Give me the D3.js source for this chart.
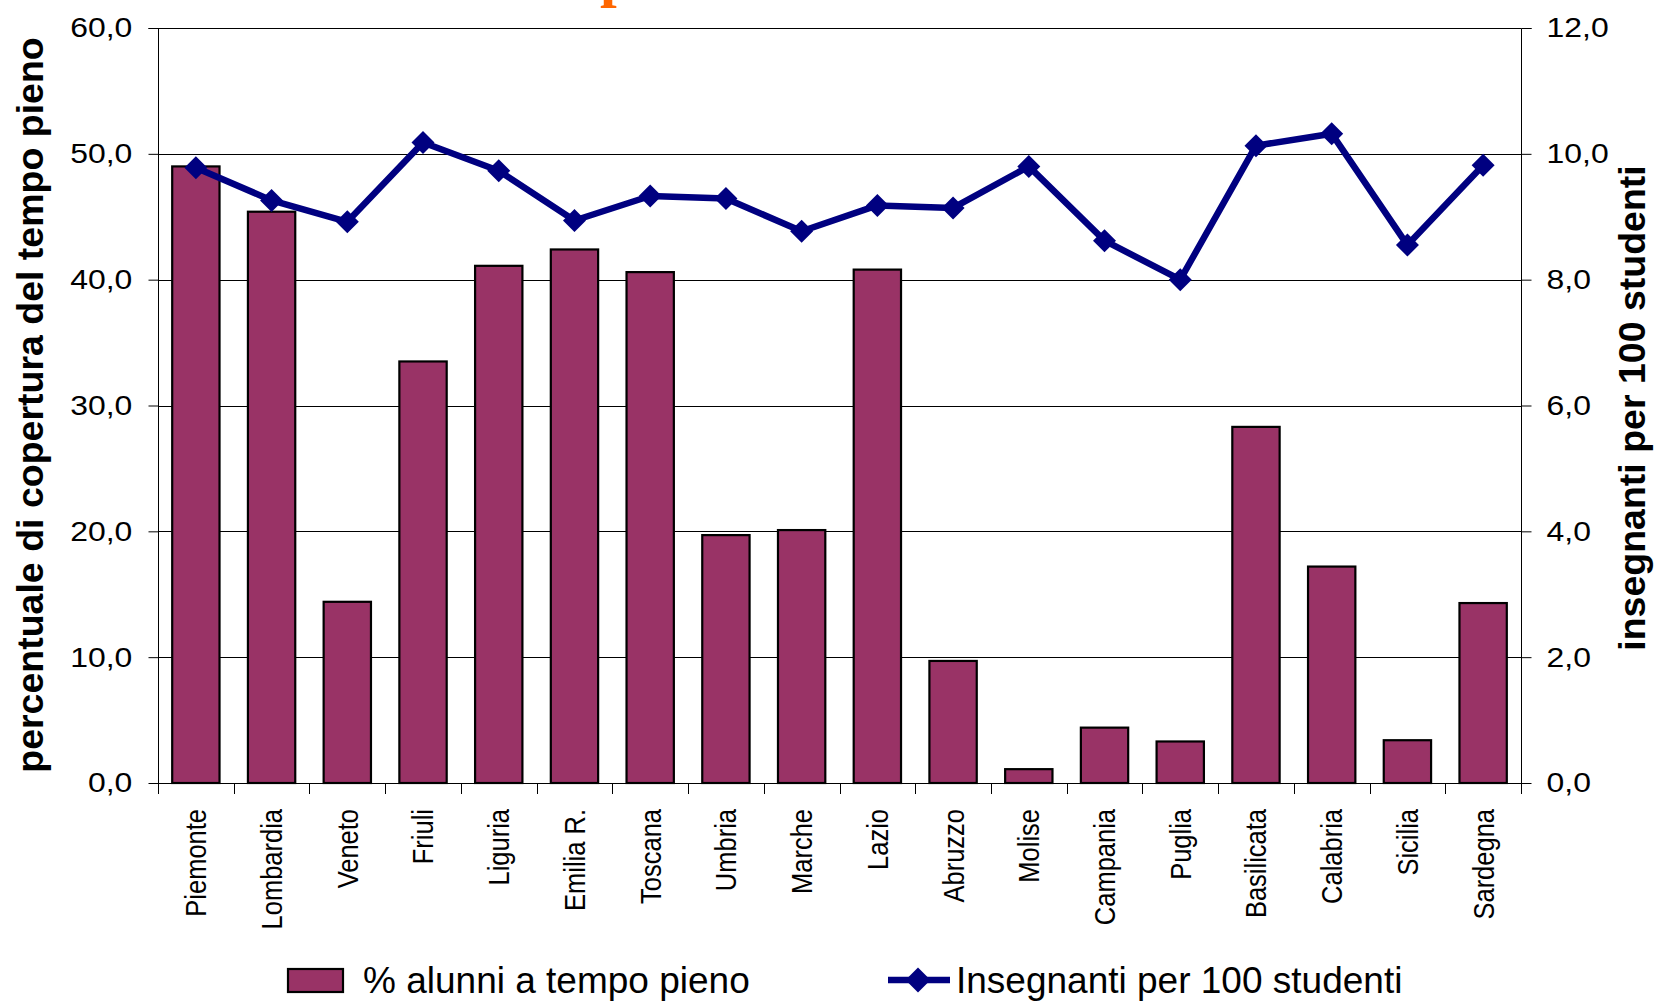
<!DOCTYPE html>
<html>
<head>
<meta charset="utf-8">
<script src="https://cdn.jsdelivr.net/npm/d3@7"></script>
<style>
  body { margin: 0; background: #fff; }
  svg { display: block; font-family: "Liberation Sans", Arial, sans-serif; }
</style>
</head>
<body>
<div id="chart"></div>
<script>
// regioni
var regioni = ["Piemonte", "Lombardia", "Veneto", "Friuli", "Liguria", "Emilia R.", "Toscana",
  "Umbria", "Marche", "Lazio", "Abruzzo", "Molise", "Campania", "Puglia", "Basilicata",
  "Calabria", "Sicilia", "Sardegna"];

// % alunni a tempo pieno (asse sinistro)
var tempoPieno = [49.0, 45.4, 14.4, 33.5, 41.1, 42.4, 40.6, 19.7, 20.1, 40.8, 9.7, 1.1,
  4.4, 3.3, 28.3, 17.2, 3.4, 14.3];

// insegnanti per 100 studenti (asse destro)
var insegnanti = [9.78, 9.26, 8.92, 10.18, 9.73, 8.94, 9.33, 9.29, 8.77, 9.18, 9.14, 9.80,
  8.62, 8.0, 10.13, 10.32, 8.55, 9.82];

var leftTicks = [0, 10, 20, 30, 40, 50, 60];
var rightTicks = [0, 2, 4, 6, 8, 10, 12];

const W = 1657, H = 1001;
const m = { top: 28, right: 136, bottom: 218, left: 158 };
const plotR = W - m.right, plotB = H - m.bottom;
const barColor = "#993366", lineColor = "#000080";
const sx = 1.14; // the tick text in the original is a little wide

const fmt = d3.formatLocale({ decimal: ",", thousands: ".", grouping: [3], currency: ["€", ""] }).format(".1f");

var svg = d3.select("#chart").append("svg")
  .attr("width", W)
  .attr("height", H);

var x = d3.scaleBand().domain(regioni).range([m.left, plotR]).padding(0);
var yL = d3.scaleLinear().domain([0, 60]).range([plotB, m.top]);
var yR = d3.scaleLinear().domain([0, 12]).range([plotB, m.top]);

// pezzo del titolo arancione tagliato in alto
svg.append("text")
  .attr("x", 600)
  .attr("y", -5)
  .style("font-family", "'Liberation Serif', serif")
  .style("font-weight", "bold")
  .style("font-size", "60px")
  .style("fill", "#ff6600")
  .text("p");

// griglia
svg.append("g")
  .selectAll("line")
  .data(leftTicks.filter(d => d > 0))
  .enter().append("line")
  .attr("x1", m.left).attr("x2", plotR)
  .attr("y1", d => Math.round(yL(d)) + 0.5)
  .attr("y2", d => Math.round(yL(d)) + 0.5)
  .attr("stroke", "#000")
  .attr("stroke-width", 1);

// barre
var bw = x.bandwidth() / 1.6;
svg.append("g")
  .selectAll("rect")
  .data(regioni)
  .enter().append("rect")
  .attr("x", (d, i) => x(d) + (x.bandwidth() - bw) / 2)
  .attr("y", (d, i) => yL(tempoPieno[i]))
  .attr("width", bw)
  .attr("height", (d, i) => plotB - yL(tempoPieno[i]))
  .attr("fill", barColor)
  .attr("stroke", "#000")
  .attr("stroke-width", 2.2);

// asse sinistro
var axL = svg.append("g")
  .attr("transform", `translate(${m.left + 0.5},0)`)
  .call(d3.axisLeft(yL).tickValues(leftTicks).tickSize(10).tickPadding(13).tickFormat(fmt));
axL.select(".domain").attr("d", `M-10,${yL(60) + 0.5}H0V${plotB + 11}`).attr("stroke", "#000");
axL.selectAll("text")
  .attr("transform", `scale(${sx},1)`)
  .style("font-size", "28px")
  .style("font-family", "'Liberation Sans', Arial, sans-serif")
  .attr("fill", "#000");

// asse destro
var axR = svg.append("g")
  .attr("transform", `translate(${plotR + 0.5},0)`)
  .call(d3.axisRight(yR).tickValues(rightTicks).tickSize(10).tickPadding(12).tickFormat(fmt));
axR.select(".domain").attr("d", `M10,${yR(12) + 0.5}H0V${plotB + 11}`).attr("stroke", "#000");
axR.selectAll("text")
  .attr("transform", `scale(${sx},1)`)
  .style("font-size", "28px")
  .style("font-family", "'Liberation Sans', Arial, sans-serif")
  .attr("fill", "#000");

// asse x: linea e tacche tra le categorie
svg.append("line")
  .attr("x1", m.left).attr("x2", plotR)
  .attr("y1", Math.round(plotB) + 0.5).attr("y2", Math.round(plotB) + 0.5)
  .attr("stroke", "#000");

svg.append("g")
  .selectAll("line")
  .data(d3.range(1, regioni.length))
  .enter().append("line")
  .attr("x1", i => Math.round(m.left + i * x.step()) + 0.5)
  .attr("x2", i => Math.round(m.left + i * x.step()) + 0.5)
  .attr("y1", plotB)
  .attr("y2", plotB + 11)
  .attr("stroke", "#000");

// etichette regioni
svg.append("g")
  .selectAll("text")
  .data(regioni)
  .enter().append("text")
  .attr("transform", d => `translate(${x(d) + x.bandwidth() / 2},809) scale(${sx},1) rotate(-90)`)
  .attr("text-anchor", "end")
  .attr("dy", "0.36em")
  .style("font-size", "25.5px")
  .text(d => d);

// linea insegnanti
var line = d3.line()
  .x((d, i) => x(regioni[i]) + x.bandwidth() / 2)
  .y(d => yR(d));

svg.append("path")
  .datum(insegnanti)
  .attr("d", line)
  .attr("fill", "none")
  .attr("stroke", lineColor)
  .attr("stroke-width", 6.5)
  .attr("stroke-linejoin", "round");

var diamond = (cx, cy, r) => `M${cx},${cy - r}L${cx + r},${cy}L${cx},${cy + r}L${cx - r},${cy}Z`;

svg.append("g")
  .selectAll("path")
  .data(insegnanti)
  .enter().append("path")
  .attr("d", (d, i) => diamond(x(regioni[i]) + x.bandwidth() / 2, yR(d), 11.5))
  .attr("fill", lineColor);

// titoli assi
svg.append("text")
  .attr("transform", "translate(43,405) rotate(-90)")
  .attr("text-anchor", "middle")
  .style("font-size", "37.5px")
  .style("font-weight", "bold")
  .text("percentuale di copertura del tempo pieno");

svg.append("text")
  .attr("transform", "translate(1645,408) rotate(-90)")
  .attr("text-anchor", "middle")
  .style("font-size", "37.5px")
  .style("font-weight", "bold")
  .text("insegnanti per 100 studenti");

// legenda
var legend = svg.append("g");

legend.append("rect")
  .attr("x", 288).attr("y", 969)
  .attr("width", 55).attr("height", 23)
  .attr("fill", barColor)
  .attr("stroke", "#000")
  .attr("stroke-width", 2.2);

legend.append("text")
  .attr("x", 363).attr("y", 993)
  .style("font-size", "37px")
  .text("% alunni a tempo pieno");

legend.append("line")
  .attr("x1", 888).attr("x2", 950)
  .attr("y1", 980).attr("y2", 980)
  .attr("stroke", lineColor)
  .attr("stroke-width", 6.5);

legend.append("path")
  .attr("d", diamond(918, 980, 12.5))
  .attr("fill", lineColor);

legend.append("text")
  .attr("x", 956).attr("y", 993)
  .style("font-size", "37px")
  .text("Insegnanti per 100 studenti");
</script>
</body>
</html>
